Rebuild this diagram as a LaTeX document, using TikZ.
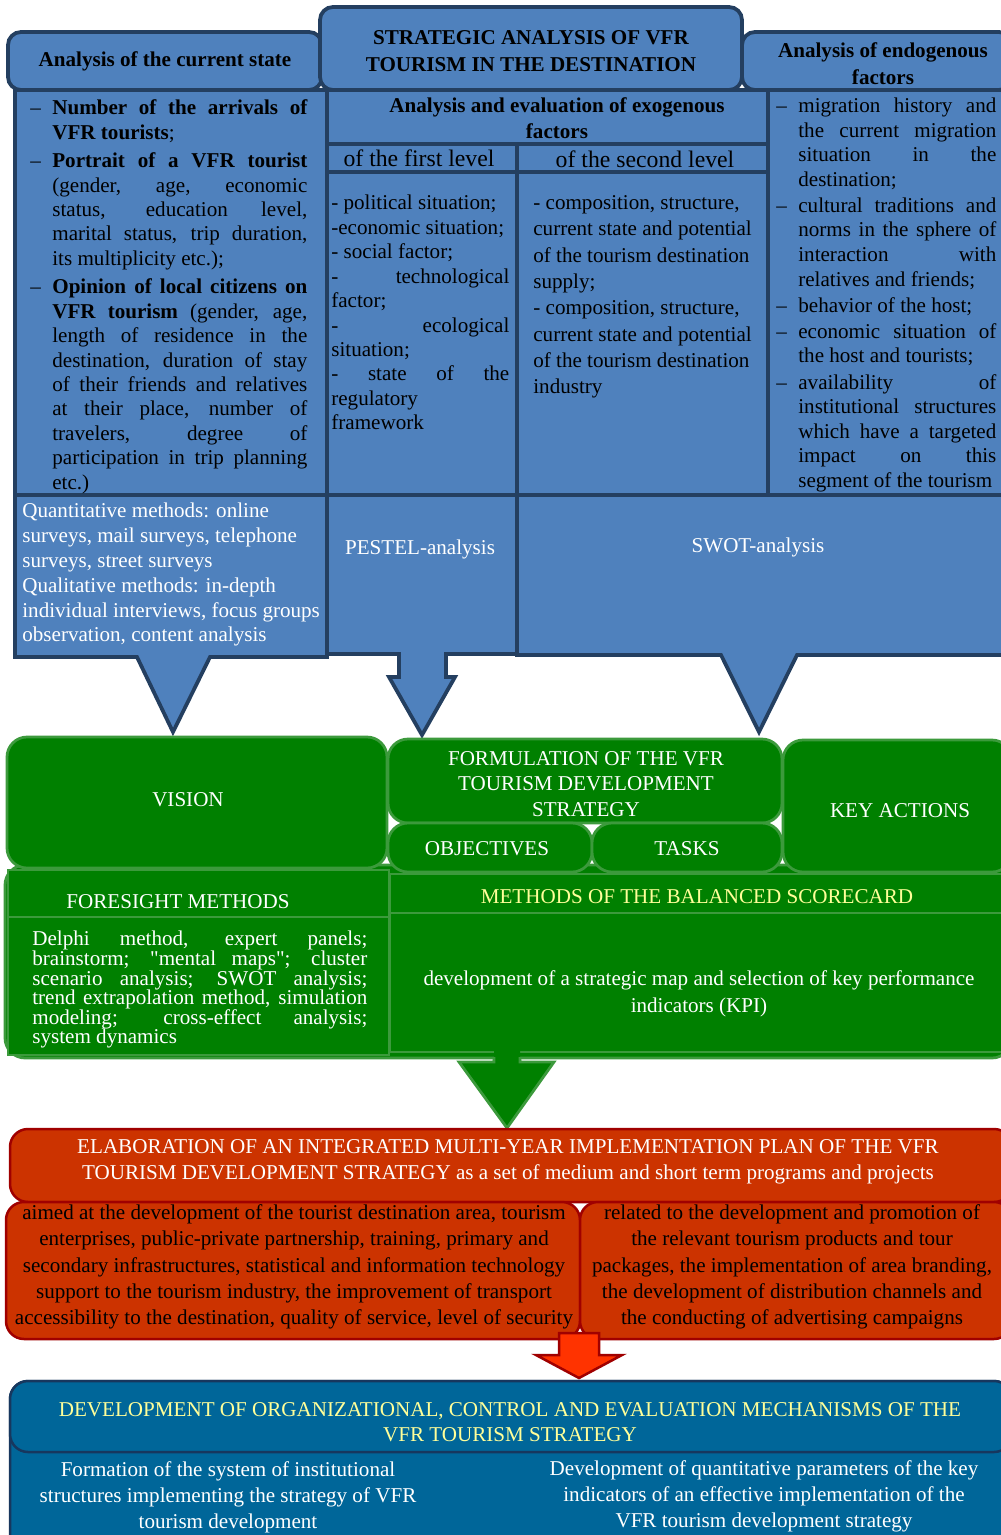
\documentclass[tikz,border=0pt]{standalone}
\usepackage{fontspec}
\setmainfont{Liberation Serif}
\usetikzlibrary{positioning}

\definecolor{blueFill}{HTML}{4F81BD}
\definecolor{blueLine}{HTML}{243F60}
\definecolor{greenFill}{HTML}{008000}
\definecolor{greenLine}{HTML}{3C9A3C}
\definecolor{redFill}{HTML}{CC3300}
\definecolor{redLine}{HTML}{A00000}
\definecolor{arrowRed}{HTML}{FF3300}
\definecolor{navyFill}{HTML}{006699}
\definecolor{navyLine}{HTML}{17375E}
\definecolor{paleYellow}{HTML}{FFFF99}

% justified lists: no indent, no hyphenation
\newcommand{\listsetup}[1]{\setlength{\parindent}{0pt}\setlength{\parskip}{#1}%
  \hyphenpenalty=10000 \exhyphenpenalty=10000 \tolerance=10000 }
\newcommand{\dashitem}[1]{\par\noindent\hangindent=4.4mm\hangafter=1\makebox[4.4mm][l]{--}#1}
\newcommand{\dq}{{\addfontfeature{Ligatures=TeXOff}"}}

\tikzset{
  bluebox/.style={draw=blueLine, fill=blueFill, line width=0.75mm},
  bluehead/.style={bluebox, rounded corners=2.6mm},
  greenbox/.style={draw=greenLine, fill=greenFill, line width=0.55mm, rounded corners=4mm},
  greenrect/.style={draw=greenLine, fill=greenFill, line width=0.55mm},
  redbox/.style={draw=redLine, fill=redFill, line width=0.5mm, rounded corners=3.6mm},
  navybox/.style={draw=navyLine, fill=navyFill, line width=0.5mm, rounded corners=3.6mm},
  txt/.style={inner sep=0pt, align=center, font=\fontsize{12}{14}\selectfont},
  boldtxt/.style={inner sep=0pt, align=center, font=\fontsize{12}{15.3}\selectfont\bfseries},
  jtxt/.style={inner sep=0pt, anchor=north west, align=justify, font=\fontsize{12}{13.9}\selectfont},
}

\begin{document}
\begin{tikzpicture}[x=0.2mm, y=-0.2mm]
  \path[use as bounding box, fill=white] (0,0) rectangle (1000,1535);

  % strategic analysis block
  \draw[bluebox] (15,90) rectangle (327,495);
  \draw[bluebox] (327,90) rectangle (768,495);
  \draw[bluebox] (768,90) rectangle (1012,495);
  \draw[bluebox] (327,144) rectangle (517,172);
  \draw[bluebox] (517,144) rectangle (768,172);
  \draw[bluebox] (327,172) rectangle (517,495);
  \draw[bluebox] (517,172) rectangle (768,495);

  \draw[bluebox] (15,495) -- (327,495) -- (327,657) -- (210,657) -- (173,732)
    -- (137,657) -- (15,657) -- cycle;
  \draw[bluebox] (327,495) -- (517,495) -- (517,654) -- (446,654) -- (446,677)
    -- (455,677) -- (422,735) -- (389,677) -- (399,677) -- (399,654) -- (327,654) -- cycle;
  \draw[bluebox] (517,495) -- (1012,495) -- (1012,655) -- (797,655) -- (759,732)
    -- (721,655) -- (517,655) -- cycle;

  \draw[bluehead] (8,32) rectangle (322,90);
  \draw[bluehead] (742,32) rectangle (1012,90);
  \draw[bluehead] (320,7) rectangle (742,90);

  \node[boldtxt] (curState) at (165,61) {Analysis of the current state};
  \node[boldtxt, font=\fontsize{12}{15.5}\selectfont\bfseries] (stratHead) at (531,51)
    {STRATEGIC ANALYSIS OF VFR\\TOURISM IN THE DESTINATION};
  \node[boldtxt] (endoHead) at (883,64) {Analysis of endogenous\\factors};
  \node[boldtxt, font=\fontsize{12}{14.7}\selectfont\bfseries] (exoHead) at (557,118)
    {Analysis and evaluation of exogenous\\factors};
  \node[txt, font=\fontsize{13.5}{15}\selectfont] (firstLvl) at (419,158) {of the first level};
  \node[txt, font=\fontsize{13.5}{15}\selectfont] (secondLvl) at (645,159) {of the second level};

  \node[jtxt, text width=55.4mm] (curList) at (30,86) {\listsetup{0.8mm}%
    \dashitem{\textbf{Number of the arrivals of\linebreak VFR tourists};}
    \dashitem{\textbf{Portrait of a VFR tourist}\linebreak (gender, age, economic\linebreak
      status, education level,\linebreak marital status, trip duration,\linebreak
      its multiplicity etc.);}
    \dashitem{\textbf{Opinion of local citizens on\linebreak VFR tourism} (gender, age,\linebreak
      length of residence in the\linebreak destination, duration of stay\linebreak
      of their friends and relatives\linebreak at their place, number of\linebreak
      travelers, degree of\linebreak participation in trip planning\linebreak etc.)}\par};

  \node[jtxt, text width=35.6mm] (firstList) at (331,195) {\listsetup{0pt}%
    - political situation;\par
    -economic situation;\par
    - social factor;\par
    - technological\linebreak factor;\par
    - ecological\linebreak situation;\par
    - state of the\linebreak regulatory\linebreak framework\par};

  \node[txt, anchor=north west, align=left, font=\fontsize{12}{15}\selectfont]
    (secondList) at (533,195) {%
    - composition, structure,\\ current state and potential\\ of the tourism destination\\
    supply;\\ - composition, structure,\\ current state and potential\\
    of the tourism destination\\ industry};

  \node[jtxt, text width=44mm, font=\fontsize{12}{14}\selectfont] (endoList) at (776,86)
    {\listsetup{0.3mm}%
    \dashitem{migration history and\linebreak the current migration\linebreak
      situation in the\linebreak destination;}
    \dashitem{cultural traditions and\linebreak norms in the sphere of\linebreak
      interaction with\linebreak relatives and friends;}
    \dashitem{behavior of the host;}
    \dashitem{economic situation of\linebreak the host and tourists;}
    \dashitem{availability of\linebreak institutional structures\linebreak
      which have a targeted\linebreak impact on this\linebreak segment of the tourism}\par};

  \node[txt, anchor=north west, align=left, text=white, font=\fontsize{12}{14.1}\selectfont]
    (surveyText) at (22,503) {Quantitative methods: online\\ surveys, mail surveys, telephone\\
    surveys, street surveys\\ Qualitative methods: in-depth\\
    individual interviews, focus groups\\ observation, content analysis};
  \node[txt, text=white] (pestel) at (420,549) {PESTEL-analysis};
  \node[txt, text=white] (swot) at (758,547) {SWOT-analysis};

  % strategy formulation block
  \draw[greenbox] (5,865) rectangle (1012,1058);
  \draw[greenbox] (7,737) rectangle (387,868);
  \draw[greenbox] (388,739) rectangle (782,823);
  \draw[greenbox] (388,823) rectangle (592,872);
  \draw[greenbox] (592,823) rectangle (782,872);
  \draw[greenbox] (783,740) rectangle (1012,872);
  \draw[greenrect] (8,870) rectangle (389,917);
  \draw[greenrect] (8,917) rectangle (389,1055);
  \draw[greenrect] (390,874) rectangle (1012,913);
  \draw[greenrect] (390,913) rectangle (1012,1052);

  \node[txt, text=white] (vision) at (188,800) {VISION};
  \node[txt, text=white, font=\fontsize{12}{14.7}\selectfont] (formul) at (586,784)
    {FORMULATION OF THE VFR\\TOURISM DEVELOPMENT\\STRATEGY};
  \node[txt, text=white] (keyAct) at (900,811) {KEY ACTIONS};
  \node[txt, text=white] (objectives) at (487,849) {OBJECTIVES};
  \node[txt, text=white] (tasks) at (687,849) {TASKS};
  \node[txt, text=white] (foresight) at (178,902) {FORESIGHT METHODS};
  \node[txt, text=paleYellow] (bscHead) at (697,897) {METHODS OF THE BALANCED SCORECARD};
  \node[txt, text=white, font=\fontsize{12}{15.3}\selectfont] (bscText) at (699,994)
    {development of a strategic map and selection of key performance\\indicators (KPI)};
  \node[jtxt, text=white, text width=67mm, font=\fontsize{12}{11.1}\selectfont]
    (foreText) at (32,931) {\listsetup{0pt}%
    Delphi method, expert panels;\linebreak brainstorm; \dq mental maps\dq; cluster\linebreak
    scenario analysis; SWOT analysis;\linebreak trend extrapolation method, simulation\linebreak
    modeling; cross-effect analysis;\linebreak system dynamics\par};

  \fill[greenFill] (494,1048) -- (520,1048) -- (520,1062) -- (554,1062) -- (507,1128)
    -- (459,1062) -- (494,1062) -- cycle;
  \draw[greenLine, line width=0.55mm] (494,1057) -- (494,1062) -- (459,1062) -- (507,1128)
    -- (554,1062) -- (520,1062) -- (520,1057);

  % implementation plan block
  \draw[redbox] (10,1129) rectangle (1012,1202);
  \draw[redbox] (6,1202) rectangle (580,1339);
  \draw[redbox] (580,1202) rectangle (1012,1339);

  \node[txt, text=white, font=\fontsize{12}{15}\selectfont] (planHead) at (508,1162)
    {ELABORATION OF AN INTEGRATED MULTI-YEAR IMPLEMENTATION PLAN OF THE VFR\\
    TOURISM DEVELOPMENT STRATEGY as a set of medium and short term programs and projects};
  \node[txt, text=black, font=\fontsize{12}{14.9}\selectfont] (planLeft) at (294,1267)
    {aimed at the development of the tourist destination area, tourism\\
    enterprises, public-private partnership, training, primary and\\
    secondary infrastructures, statistical and information technology\\
    support to the tourism industry, the improvement of transport\\
    accessibility to the destination, quality of service, level of security};
  \node[txt, text=black, font=\fontsize{12}{14.9}\selectfont] (planRight) at (792,1267)
    {related to the development and promotion of\\
    the relevant tourism products and tour\\
    packages, the implementation of area branding,\\
    the development of distribution channels and\\
    the conducting of advertising campaigns};

  \draw[draw=redLine, fill=arrowRed, line width=0.5mm] (559,1333) -- (599,1333) -- (599,1355)
    -- (622,1355) -- (579,1378) -- (536,1355) -- (559,1355) -- cycle;

  % control and evaluation block
  \draw[navybox] (10,1381) rectangle (1012,1570);
  \draw[navybox] (10,1381) rectangle (1012,1452);

  \node[txt, text=paleYellow, font=\fontsize{12}{14.2}\selectfont] (ctrlHead) at (510,1422)
    {DEVELOPMENT OF ORGANIZATIONAL, CONTROL AND EVALUATION MECHANISMS OF THE\\
    VFR TOURISM STRATEGY};
  \node[txt, text=white, font=\fontsize{12}{14.7}\selectfont] (ctrlLeft) at (228,1497)
    {Formation of the system of institutional\\
    structures implementing the strategy of VFR\\
    tourism development};
  \node[txt, text=white, font=\fontsize{12}{14.7}\selectfont] (ctrlRight) at (764,1496)
    {Development of quantitative parameters of the key\\
    indicators of an effective implementation of the\\
    VFR tourism development strategy};
\end{tikzpicture}
\end{document}
